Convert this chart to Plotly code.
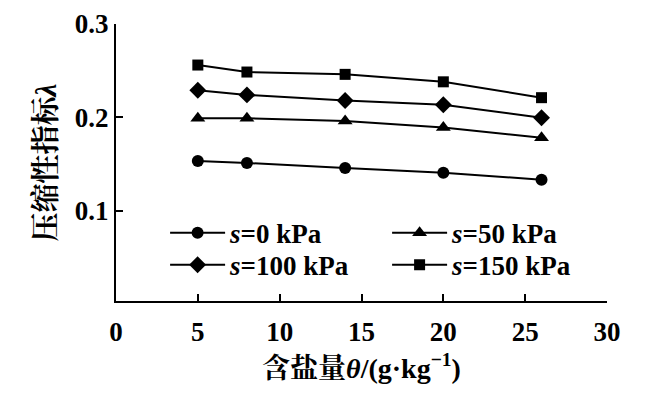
import plotly.graph_objects as go

theta = [5, 8, 14, 20, 26]
lam_s0 = [0.153, 0.151, 0.1455, 0.1405, 0.133]
lam_s50 = [0.199, 0.199, 0.196, 0.189, 0.178]
lam_s100 = [0.229, 0.224, 0.218, 0.2135, 0.1995]
lam_s150 = [0.256, 0.2485, 0.246, 0.238, 0.221]
series_names = ["<i>s</i>=0 kPa", "<i>s</i>=50 kPa", "<i>s</i>=100 kPa", "<i>s</i>=150 kPa"]
symbols = ["circle", "triangle-up", "diamond", "square"]
sizes = [12, 13, 13, 11]
legend_rows = ["legend", "legend", "legend2", "legend2"]
x_ticks = [0, 5, 10, 15, 20, 25, 30]
y_ticks = [0.1, 0.2, 0.3]

FONT = "Times New Roman, Liberation Serif, Noto Serif CJK SC, Noto Sans CJK SC"

fig = go.Figure()
for name, ys, sym, sz, lg in zip(series_names, [lam_s0, lam_s50, lam_s100, lam_s150],
                                 symbols, sizes, legend_rows):
    fig.add_trace(go.Scatter(
        x=theta, y=ys, name=name, mode="lines+markers", legend=lg,
        line=dict(color="black", width=2),
        marker=dict(symbol=sym, size=sz, color="black"),
    ))

legend_style = dict(
    orientation="h", x=0.1, xanchor="left", yanchor="middle",
    entrywidth=152, entrywidthmode="pixels",
    bgcolor="rgba(0,0,0,0)", borderwidth=0,
    font=dict(family=FONT, size=27, color="black", weight="bold"),
    traceorder="normal", itemwidth=55,
)

fig.update_layout(
    width=645, height=395,
    margin=dict(l=116, r=38, t=24, b=94, autoexpand=False),
    paper_bgcolor="white", plot_bgcolor="white",
    font=dict(family=FONT, size=27, color="black", weight="bold"),
    showlegend=True,
    legend=dict(y=0.245, **legend_style),
    legend2=dict(y=0.129, **legend_style),
)
fig.update_xaxes(
    range=[0, 30], tickvals=x_ticks, ticktext=[str(v) for v in x_ticks],
    showline=True, linecolor="black", linewidth=2, mirror=False,
    ticks="inside", ticklen=7, tickwidth=2, tickcolor="black",
    showgrid=False, zeroline=False, ticklabelstandoff=6,
    title=dict(text="含盐量<i>θ</i>/(g·kg<sup>−1</sup>)", standoff=12,
               font=dict(family=FONT, size=28, weight="bold")),
)
fig.update_yaxes(
    range=[0.003, 0.3], tickvals=y_ticks, ticktext=["0.1", "0.2", "0.3"],
    showline=True, linecolor="black", linewidth=2, mirror=False,
    ticks="inside", ticklen=7, tickwidth=2, tickcolor="black",
    showgrid=False, zeroline=False, ticklabelstandoff=0,
    title=dict(text="压缩性指标<i>λ</i>", standoff=10,
               font=dict(family=FONT, size=29, weight="bold")),
)

fig.write_html("out.html", config={"displayModeBar": False},
               post_script="document.body.style.margin='0';document.body.style.overflow='hidden';")
